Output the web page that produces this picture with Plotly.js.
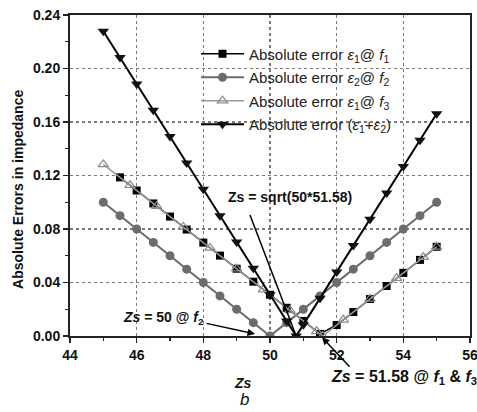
<!DOCTYPE html>
<html>
<head>
<meta charset="utf-8">
<script src="https://cdn.plot.ly/plotly-3.0.1.min.js"></script>
<style>html,body{margin:0;padding:0;background:#fff;}#chart{width:477px;height:412px;}</style>
</head>
<body>
<div id="chart"></div>
<script>
// Series: absolute error eps1 @ f1 (squares)
const zsE1F1 = [45.5,46,46.5,47,47.5,48,48.5,49,49.5,50,50.5,51,51.5,52,52.5,53,53.5,54,54.5,55];
const errE1F1 = [0.1186,0.1088,0.0991,0.0893,0.0796,0.0698,0.0601,0.0503,0.0406,0.0308,0.0211,0.0113,0.0016,0.0082,0.0179,0.0277,0.0374,0.0472,0.0569,0.0667];

// Series: absolute error eps2 @ f2 (circles)
const zsE2F2 = [45,45.5,46,46.5,47,47.5,48,48.5,49,49.5,50,50.5,51,51.5,52,52.5,53,53.5,54,54.5,55];
const errE2F2 = [0.100,0.090,0.080,0.070,0.060,0.050,0.040,0.030,0.020,0.010,0.000,0.010,0.020,0.030,0.040,0.050,0.060,0.070,0.080,0.090,0.100];

// Series: absolute error eps1 @ f3 (open triangles)
const zsE1F3 = [45,45.8,46.6,47.4,48.2,49,49.8,50.6,51.4,51.58,52.2,53,53.8,54.6,55];
const errE1F3 = [0.1283,0.1127,0.0971,0.0815,0.0659,0.0503,0.0347,0.0191,0.0035,0.0000,0.0121,0.0277,0.0433,0.0589,0.0667];

// Series: absolute error (eps1 + eps2) (down triangles)
const zsSum = [45,45.5,46,46.5,47,47.5,48,48.5,49,49.5,50,50.5,50.785,51,51.5,52,52.5,53,53.5,54,54.5,55];
const errSum = [0.2279,0.2082,0.1885,0.1688,0.1491,0.1294,0.1097,0.0900,0.0703,0.0506,0.0309,0.0112,0.0000,0.0085,0.0282,0.0479,0.0676,0.0873,0.1070,0.1267,0.1464,0.1661];

const seriesNames = [
  'Absolute error <i>ε</i><sub>1</sub>@ <i>f</i><sub>1</sub>',
  'Absolute error <i>ε</i><sub>2</sub>@ <i>f</i><sub>2</sub>',
  'Absolute error <i>ε</i><sub>1</sub>@ <i>f</i><sub>3</sub>',
  'Absolute error (<i>ε</i><sub>1</sub>+<i>ε</i><sub>2</sub>)'
];

const xTicks = [44,46,48,50,52,54,56];
const yTicks = [0.00,0.04,0.08,0.12,0.16,0.20,0.24];

const FONT = 'Liberation Sans, Arial, Helvetica, sans-serif';

const traces = [
  {x: zsE1F1, y: errE1F1, name: seriesNames[0], legendgroup: 'g1', mode: 'lines+markers',
   line: {color: '#000', width: 1.5},
   marker: {symbol: 'square', size: 8, color: '#000'}},
  {x: zsE2F2, y: errE2F2, name: seriesNames[1], legendgroup: 'g2', mode: 'lines+markers',
   line: {color: '#6c6c6c', width: 2},
   marker: {symbol: 'circle', size: 9, color: '#6c6c6c'}},
  {x: zsE1F3, y: errE1F3, name: seriesNames[2], legendgroup: 'g3', mode: 'lines+markers',
   line: {color: '#9a9a9a', width: 1.5},
   marker: {symbol: 'triangle-up-open', size: 9, color: '#8a8a8a', line: {width: 1.2}}},
  {x: zsSum, y: errSum, name: seriesNames[3], legendgroup: 'g4', mode: 'lines+markers',
   line: {color: '#000', width: 2},
   marker: {symbol: 'triangle-down', size: 10, color: '#111'}}
];

const bold14 = {family: FONT, size: 14, color: '#111', weight: 'bold'};

const layout = {
  width: 477, height: 412,
  margin: {l: 70, r: 7, t: 15, b: 76},
  paper_bgcolor: '#fff', plot_bgcolor: '#fff',
  font: {family: FONT, color: '#111'},
  showlegend: true,
  legend: {x: 0.315, y: 0.93, xanchor: 'left', yanchor: 'top',
           bgcolor: 'rgba(0,0,0,0)', borderwidth: 0, itemwidth: 43,
           traceorder: 'grouped', tracegroupgap: 1,
           font: {family: FONT, size: 15, color: '#222'}},
  xaxis: {
    range: [44, 56], tickvals: xTicks, ticktext: xTicks.map(String),
    ticks: 'outside', ticklen: 5, tickwidth: 1.5, tickcolor: '#222',
    ticklabeloverflow: 'allow',
    minor: {dtick: 1, tick0: 44, ticks: 'outside', ticklen: 3, tickwidth: 1.2, tickcolor: '#222', showgrid: false},
    showgrid: true, gridcolor: '#7a7a7a', griddash: 'dot', gridwidth: 1.5,
    showline: true, linecolor: '#222', linewidth: 2, mirror: true, zeroline: false,
    tickfont: bold14
  },
  yaxis: {
    range: [0, 0.24], tickvals: yTicks, ticktext: yTicks.map(v => v.toFixed(2)),
    ticks: 'outside', ticklen: 5, tickwidth: 1.5, tickcolor: '#222',
    ticklabeloverflow: 'allow',
    minor: {dtick: 0.02, tick0: 0, ticks: 'outside', ticklen: 3, tickwidth: 1.2, tickcolor: '#222', showgrid: false},
    showgrid: true, gridcolor: '#7a7a7a', griddash: 'dot', gridwidth: 1.5,
    showline: true, linecolor: '#222', linewidth: 2, mirror: true, zeroline: false,
    tickfont: bold14
  },
  shapes: [
    {type: 'line', xref: 'x', yref: 'y', x0: 49.40, y0: 0.0905, x1: 50.785, y1: 0.0,
     line: {color: '#000', width: 1.5}}
  ],
  annotations: [
    {xref: 'paper', yref: 'paper', x: -0.13, y: 0.455, xanchor: 'center', yanchor: 'middle',
     textangle: -90, showarrow: false,
     text: 'Absolute Errors in impedance', font: {family: FONT, size: 14, color: '#111', weight: 'bold'}},
    {xref: 'paper', yref: 'paper', x: 0.4325, y: -0.146, xanchor: 'center', yanchor: 'middle', showarrow: false,
     text: '<i>Zs</i>', font: {family: FONT, size: 14, color: '#111', weight: 'bold'}},
    {xref: 'paper', yref: 'paper', x: 0.435, y: -0.199, xanchor: 'center', yanchor: 'middle', showarrow: false,
     text: '<i>b</i>', font: {family: FONT, size: 17, color: '#111'}},
    {xref: 'x', yref: 'y', x: 50.6, y: 0.104, showarrow: false,
     text: 'Zs = sqrt(50*51.58)', font: bold14},
    {xref: 'x', yref: 'y', x: 46.8, y: 0.0135, showarrow: false,
     text: '<i>Zs</i> = 50 @ <i>f</i><sub>2</sub>', font: bold14},
    {xref: 'paper', yref: 'paper', x: 0.6475, y: -0.128, xanchor: 'left', yanchor: 'middle', showarrow: false,
     text: '<i>Zs</i> = 51.58 @ <i>f</i><sub>1</sub> &amp; <i>f</i><sub>3</sub>',
     font: {family: FONT, size: 16, color: '#111', weight: 'bold'}},
    {xref: 'x', yref: 'y', axref: 'x', ayref: 'y', x: 49.55, y: 0.0015, ax: 48.05, ay: 0.0097,
     text: '', showarrow: true, arrowhead: 2, arrowsize: 1, arrowwidth: 1.5, arrowcolor: '#000'},
    {xref: 'x', yref: 'paper', x: 51.56, y: -0.004, ax: 29, ay: 31,
     text: '', showarrow: true, arrowhead: 2, arrowsize: 1, arrowwidth: 1.5, arrowcolor: '#000'}
  ]
};

Plotly.newPlot('chart', traces, layout, {displayModeBar: false, staticPlot: true});
</script>
</body>
</html>
